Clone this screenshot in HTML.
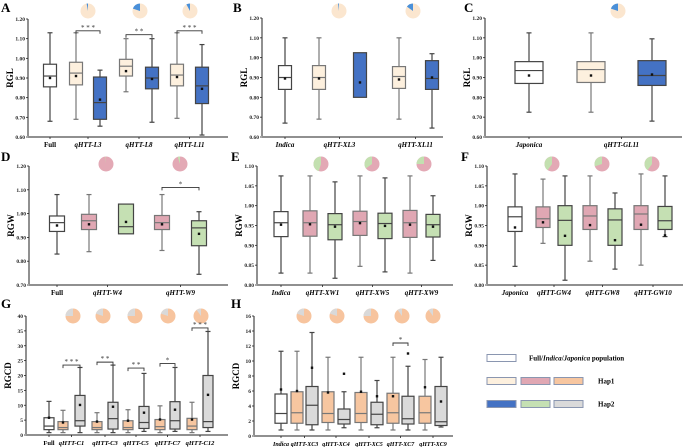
<!DOCTYPE html>
<html><head><meta charset="utf-8"><style>
html,body{margin:0;padding:0;background:#fff;}
svg{display:block;font-family:"Liberation Serif",serif;}
</style></head><body>
<svg id="fig" width="685" height="447" viewBox="0 0 685 447"></svg>
<script>
// ---------- data (whiskerLow, q1, median, q3, whiskerHigh, mean) ----------
const catsA=["Full","qHTT-L3","qHTT-L8","qHTT-L11"];
const statsA=[[0.68,0.855,0.91,0.97,1.13,0.90],[0.69,0.865,0.925,0.98,1.13,0.91],[0.655,0.69,0.775,0.905,0.94,0.79],[0.83,0.91,0.96,0.995,1.10,0.935],[0.675,0.845,0.90,0.955,1.10,0.895],[0.695,0.86,0.915,0.97,1.13,0.905],[0.61,0.77,0.86,0.955,1.07,0.845]];
const piesA=[0.03,0.2,0.08];
const sigA=[[1,2,1.14,"* * *"],[3,4,1.12,"* *"],[5,6,1.14,"* * *"]];
const ticksA=[0.60,0.70,0.80,0.90,1.00,1.10,1.20];

const catsB=["Indica","qHTT-XL3","qHTT-XL11"];
const statsB=[[0.67,0.84,0.90,0.96,1.10,0.895],[0.69,0.84,0.90,0.96,1.10,0.895],[0.80,0.80,null,1.025,1.025,0.875],[0.69,0.845,0.905,0.955,1.10,0.89],[0.645,0.84,0.895,0.985,1.02,0.90]];
const piesB=[0.02,0.15];

const catsC=["Japonica","qHTT-GL11"];
const statsC=[[0.725,0.87,0.935,0.98,1.125,0.91],[0.725,0.875,0.94,0.98,1.125,0.91],[0.68,0.86,0.91,0.985,1.095,0.915]];
const piesC=[0.2];

const catsD=["Full","qHTT-W4","qHTT-W9"];
const statsD=[[0.83,0.925,0.962,0.99,1.08,0.95],[0.84,0.933,0.97,0.997,1.08,0.955],[0.915,0.915,0.945,1.04,1.04,0.965],[0.845,0.933,0.962,0.992,1.08,0.955],[0.745,0.865,0.94,0.97,1.008,0.915]];
const piesD=[0.01,0.05];
const sigD=[[3,4,1.11,"*"]];
const ticksD=[0.70,0.80,0.90,1.00,1.10,1.20];

const catsE=["Indica","qHTT-XW1","qHTT-XW5","qHTT-XW9"];
const statsE=[[0.83,0.922,0.957,0.985,1.075,0.952],[0.83,0.923,0.957,0.987,1.075,0.953],[0.817,0.914,0.952,0.98,1.06,0.947],[0.847,0.925,0.96,0.986,1.075,0.956],[0.833,0.917,0.955,0.981,1.07,0.949],[0.83,0.92,0.957,0.988,1.075,0.952],[0.862,0.921,0.952,0.978,1.025,0.947]];
const piesE=[0.45,0.35,0.25];
const ticksE=[0.80,0.85,0.90,0.95,1.00,1.05,1.10];

const catsF=["Japonica","qHTT-GW4","qHTT-GW8","qHTT-GW10"];
const statsF=[[0.847,0.935,0.972,0.997,1.08,0.945],[0.905,0.945,0.967,0.997,1.067,0.958],[0.812,0.90,0.963,1.0,1.075,0.924],[0.86,0.94,0.974,1.0,1.075,0.951],[0.84,0.90,0.964,0.992,1.032,0.913],[0.85,0.94,0.979,1.0,1.08,0.952],[0.922,0.94,0.962,0.998,1.075,0.925]];
const piesF=[0.4,0.3,0.4];

const catsG=["Full","qHTT-C1","qHTT-C3","qHTT-C5","qHTT-C7","qHTT-C12"];
const statsG=[[0.8,1.8,3,5.8,11.3,5.8],[0.8,1.8,2.5,4.5,8.3,4.2],[0.8,3,4.8,13.3,22.7,10.1],[0.8,1.8,2.5,4.5,7.5,4.5],[0.8,2,5.5,11,23.5,9.5],[0.8,1.8,2.5,4.8,8.5,4.8],[1.2,2.2,4.2,9.6,20.7,7.5],[0.8,1.8,2.8,5.2,9.8,5.2],[1.2,2,4.8,11.2,22.7,8.5],[0.8,1.8,3,5.6,11,5.2],[1.2,2.5,4.5,20,34.8,13.5]];
const piesG=[0.25,0.2,0.25,0.2,0.1];
const sigG=[[1,2,23.5,"* * *"],[3,4,24.5,"* *"],[5,6,22.5,"* *"],[7,8,24,"*"],[9,10,36,"* * *"]];
const ticksG=[0,5,10,15,20,25,30,35,40];

const catsH=["Indica","qHTT-XC3","qHTT-XC4","qHTT-XC5","qHTT-XC7","qHTT-XC9"];
const statsH=[[0.8,1.7,3,5.6,11.3,6.2],[0.8,1.7,3.1,5.9,11.3,6],[0.8,1.5,4.1,6.6,13.8,9.1],[0.8,1.8,3,5.9,10.5,5.8],[1.1,1.6,2.2,3.6,5.9,8.3],[0.8,1.8,3,5.8,10.5,5.9],[1.1,1.5,2.9,4.5,7.4,5.3],[0.8,1.7,3.1,5.7,10.5,5.3],[0.8,1.6,2.3,5.3,9.3,11],[0.8,1.7,3.1,5.3,10.2,6.5],[1.2,1.4,1.9,6.6,10.5,4.6]];
const piesH=[0.2,0.2,0.25,0.1,0.1];
const sigH=[[7,8,12.4,"*"]];
const ticksH=[0,2,4,6,8,10,12,14,16];

// ---------- drawing ----------
const NS="http://www.w3.org/2000/svg";
const svg=document.getElementById('fig');
function mk(tag,attrs,parent){const e=document.createElementNS(NS,tag);for(const k in attrs)e.setAttribute(k,attrs[k]);(parent||svg).appendChild(e);return e;}

function panel(cfg){
  const g=mk('g',{});
  
  
  const y=v=>cfg.y0+(v-cfg.vmin)/(cfg.vmax-cfg.vmin)*(cfg.y1-cfg.y0);
  const lt=mk('text',{x:cfg.lx,y:cfg.ly,'font-size':13,'font-weight':'bold'},g);lt.textContent=cfg.letter;
  
  
  // axes
  const ax=mk('path',{d:`M${cfg.ax} ${cfg.y1} V${cfg.y0-1} M${cfg.ax} ${cfg.y0} H${cfg.xend}`,stroke:'#222','stroke-width':1,fill:'none'},g);
  
  
  cfg.ticks.forEach(t=>{
    const yy=y(t);
    mk('line',{x1:cfg.ax-2,x2:cfg.ax,y1:yy,y2:yy,stroke:'#222','stroke-width':0.8},g);
    const tx=mk('text',{x:cfg.ax-3,y:yy+2,'font-size':5.5,'font-weight':'bold','text-anchor':'end',fill:'#222'},g);
    tx.textContent=cfg.dec?t.toFixed(cfg.dec):t;
    
    
  });
  const yl=mk('text',{x:0,y:0,'font-size':9,'font-weight':'bold','text-anchor':'middle',transform:`translate(${cfg.ax-15},${(cfg.y0+cfg.y1)/2}) rotate(-90)`},g);
  yl.textContent=cfg.ylab;
  
  
  // boxes
  cfg.stats.forEach((s,i)=>{
    const cx=cfg.xs[i], w=cfg.bw, col=i==0?'#fff':(i%2==1?cfg.c1:cfg.c2);
    const bg=mk('g',{},g);
    
    
    const st=i%2==0?'#444':'#777';
    mk('line',{x1:cx,x2:cx,y1:y(s[0]),y2:y(s[4]),stroke:st,'stroke-width':1.2},bg);
    if(s[4]!==s[3]) mk('line',{x1:cx-2.5,x2:cx+2.5,y1:y(s[4]),y2:y(s[4]),stroke:st,'stroke-width':1.2},bg);
    if(s[0]!==s[1]) mk('line',{x1:cx-2.5,x2:cx+2.5,y1:y(s[0]),y2:y(s[0]),stroke:st,'stroke-width':1.2},bg);
    mk('rect',{x:cx-w/2,y:y(s[3]),width:w,height:y(s[1])-y(s[3]),fill:col,stroke:st,'stroke-width':1.2},bg);
    if(s[2]!==null) mk('line',{x1:cx-w/2,x2:cx+w/2,y1:y(s[2]),y2:y(s[2]),stroke:st,'stroke-width':1.2},bg);
    mk('rect',{x:cx-1.2,y:y(s[5])-1.2,width:2.4,height:2.4,fill:'#111'},bg);
  });
  // x labels
  cfg.cats.forEach((c,j)=>{
    const xi=j==0?cfg.xs[0]:(cfg.xs[2*j-1]+cfg.xs[2*j])/2;
    mk('line',{x1:xi,x2:xi,y1:cfg.y0,y2:cfg.y0+2,stroke:'#222','stroke-width':0.8},g);
    const t=mk('text',{x:xi,y:cfg.y0+10,'font-size':cfg.xfs||7,'font-weight':'bold','font-style':(c=='Full'?'normal':'italic'),'text-anchor':'middle'},g);
    t.textContent=c;
    
    
  });
  // pies
  cfg.pies.forEach((f,j)=>{
    const cx=cfg.pieX[j], cy=cfg.pieY, r=7.5;
    const pg=mk('g',{},g);
    
    
    mk('circle',{cx,cy,r,fill:cfg.p1},pg);
    const a=f*2*Math.PI, ex=cx-r*Math.sin(a), ey=cy-r*Math.cos(a);
    mk('path',{d:`M${cx} ${cy} L${cx} ${cy-r} A${r} ${r} 0 ${f>0.5?1:0} 0 ${ex} ${ey} Z`,fill:cfg.p2},pg);
  });
  // significance
  (cfg.sig||[]).forEach(s=>{
    const x1=cfg.xs[s[0]],x2=cfg.xs[s[1]],yy=y(s[2]);
    const sg=mk('g',{},g);
    
    
    mk('path',{d:`M${x1} ${yy+3} V${yy} H${x2} V${yy+3}`,stroke:'#333',fill:'none','stroke-width':0.9},sg);
    const t=mk('text',{x:(x1+x2)/2,y:yy-1,'font-size':7,'text-anchor':'middle',fill:'#333'},sg);t.textContent=s[3];
  });
}
const cream='#fdf0de',blue='#4472c4',pink='#e0a7b3',green='#c5e0b3',orange='#f7c6a0',grey='#dadada';
panel({letter:'A',lx:1,ly:12,ax:28,xend:228,y0:137,y1:19,vmin:0.6,vmax:1.2,ticks:ticksA,dec:2,ylab:'RGL',cats:catsA,stats:statsA,xs:[50,76,100,126,152,177,202],bw:13,c1:cream,c2:blue,pies:piesA,pieX:[88,140,190],pieY:11,p1:'#fbe6cf',p2:'#4a90d9',sig:sigA});
panel({letter:'B',lx:233,ly:12,ax:262,xend:443,y0:137,y1:18,vmin:0.6,vmax:1.2,ticks:ticksA,dec:2,ylab:'RGL',cats:catsB,stats:statsB,xs:[285,319,360,399,432],bw:13,c1:cream,c2:blue,pies:piesB,pieX:[339,413],pieY:11,p1:'#fbe6cf',p2:'#4a90d9'});
panel({letter:'C',lx:464,ly:12,ax:485,xend:682,y0:137,y1:18,vmin:0.6,vmax:1.2,ticks:ticksA,dec:2,ylab:'RGL',cats:catsC,stats:statsC,xs:[529,591,652],bw:28,c1:cream,c2:blue,pies:piesC,pieX:[618],pieY:11,p1:'#fbe6cf',p2:'#4a90d9'});
panel({letter:'D',lx:1,ly:161,ax:29,xend:228,y0:285,y1:166,vmin:0.7,vmax:1.2,ticks:ticksD,dec:2,ylab:'RGW',cats:catsD,stats:statsD,xs:[57,89,126,162,199],bw:15,c1:pink,c2:green,pies:piesD,pieX:[106,180],pieY:164,p1:'#e3a9b5',p2:'#c3e0b0',sig:sigD});
panel({letter:'E',lx:231,ly:161,ax:257,xend:453,y0:285,y1:166,vmin:0.8,vmax:1.1,ticks:ticksE,dec:2,ylab:'RGW',cats:catsE,stats:statsE,xs:[281,310,335,360,385,410,433],bw:14,c1:pink,c2:green,pies:piesE,pieX:[321,372,424],pieY:164,p1:'#e3a9b5',p2:'#c3e0b0'});
panel({letter:'F',lx:461,ly:161,ax:487,xend:683,y0:285,y1:166,vmin:0.8,vmax:1.1,ticks:ticksE,dec:2,ylab:'RGW',cats:catsF,stats:statsF,xs:[515,543,565,590,615,641,665],bw:14,c1:pink,c2:green,pies:piesF,pieX:[552,602,652],pieY:164,p1:'#e3a9b5',p2:'#c3e0b0'});
panel({letter:'G',lx:1,ly:308,ax:26,xend:228,y0:435,y1:316,vmin:0,vmax:40,ticks:ticksG,dec:0,ylab:'RGCD',cats:catsG,stats:statsG,xs:[49,63,80,97,113,128,144,160,175,192,208],bw:10,c1:orange,c2:grey,pies:piesG,pieX:[73,103,135,168,201],pieY:316,p1:'#f7c49e',p2:'#d9d9d9',sig:sigG,xfs:6.5});
panel({letter:'H',lx:231,ly:308,ax:254,xend:453,y0:436,y1:316,vmin:0,vmax:16,ticks:ticksH,dec:0,ylab:'RGCD',cats:catsH,stats:statsH,xs:[281,297,312,328,344,361,377,393,408,425,441],bw:12,c1:orange,c2:grey,pies:piesH,pieX:[304,337,371,402,433],pieY:316,p1:'#f7c49e',p2:'#d9d9d9',sig:sigH,xfs:6});
</script>
<g></g>
<svg width="0" height="0"></svg>
<script>
(function(){
const svg=document.getElementById('fig');const NS="http://www.w3.org/2000/svg";
function mk(tag,a,p){const e=document.createElementNS(NS,tag);for(const k in a)e.setAttribute(k,a[k]);p.appendChild(e);return e;}
const lg=mk('g',{},svg);


const rows=[[358,['#ffffff'],'pop'],[381,['#fdf0de','#e0a7b3','#f7c6a0'],'Hap1'],[404,['#4472c4','#c5e0b3','#dadada'],'Hap2']];
const bx=[487,521,554];
rows.forEach(r=>{
  r[1].forEach((c,i)=>mk('rect',{x:bx[i],y:r[0]-3.5,width:29,height:7,fill:c,stroke:'#8a96b0','stroke-width':1},lg));
  const t=mk('text',{x:r[2]=='pop'?529:598,y:r[0]+2.5,'font-size':7,'font-weight':'bold'},lg);
  if(r[2]=='pop'){t.innerHTML='Full/<tspan font-style="italic">Indica</tspan>/<tspan font-style="italic">Japonica</tspan> population';}
  else t.textContent=r[2];
});
})();
</script>
</body></html>
